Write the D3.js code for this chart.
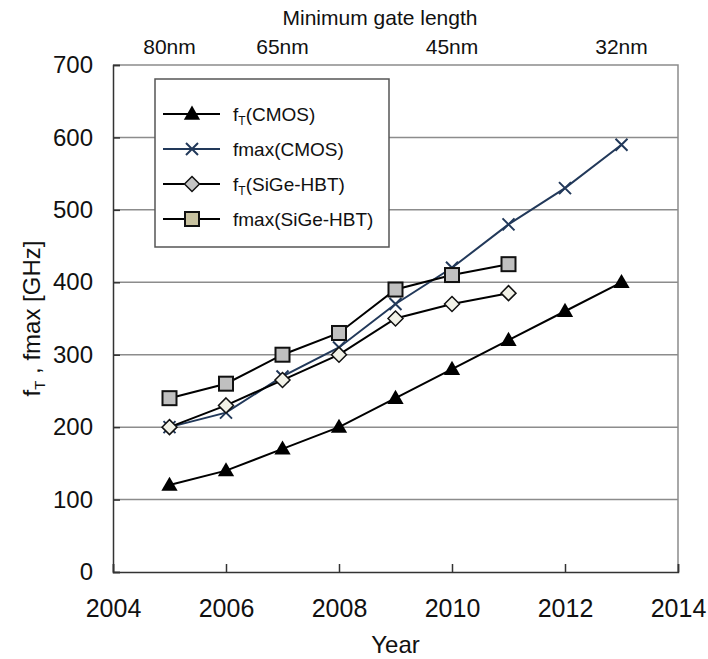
<!DOCTYPE html>
<html lang="en">
<head>
    <meta charset="UTF-8">
    <title>fT / fmax trend</title>
    <style>
        body { margin: 0; background: #fff; }
        svg text { font-family: "Liberation Sans", Arial, sans-serif; fill: #111; }
    </style>
</head>
<body>
    <div id="chartContainer"></div>

    <script src="https://d3js.org/d3.v7.min.js"></script>
    <script>
        // Data
        const years = [2005, 2006, 2007, 2008, 2009, 2010, 2011, 2012, 2013];
        const ftCmos = [120, 140, 170, 200, 240, 280, 320, 360, 400];
        const fmaxCmos = [200, 220, 270, 310, 370, 420, 480, 530, 590];
        const ftSige = [200, 230, 265, 300, 350, 370, 385];
        const fmaxSige = [240, 260, 300, 330, 390, 410, 425];

        const xTicks = [2004, 2006, 2008, 2010, 2012, 2014];
        const yTicks = [0, 100, 200, 300, 400, 500, 600, 700];
        const nodeYears = [2005, 2007, 2010, 2013];
        const nodeLabels = ["80nm", "65nm", "45nm", "32nm"];

        const seriesNames = ["fT(CMOS)", "fmax(CMOS)", "fT(SiGe-HBT)", "fmax(SiGe-HBT)"];

        const width = 708, height = 659;
        const margin = {top: 65, right: 30, bottom: 87, left: 113};

        const svg = d3.select("#chartContainer")
            .append("svg")
            .attr("width", width)
            .attr("height", height);

        const x = d3.scaleLinear()
            .domain([2004, 2014])
            .range([margin.left, width - margin.right]);

        const y = d3.scaleLinear()
            .domain([0, 700])
            .range([height - margin.bottom, margin.top]);

        // gridlines
        svg.append("g")
            .selectAll("line")
            .data(yTicks.filter(d => d > 0 && d < 700))
            .join("line")
                .attr("x1", x(2004))
                .attr("x2", x(2014))
                .attr("y1", d => y(d))
                .attr("y2", d => y(d))
                .attr("stroke", "#8c8c8c")
                .attr("stroke-width", 1.5);

        // plot border (top + right in gray)
        svg.append("path")
            .attr("d", `M${x(2004)},${y(700)}H${x(2014)}V${y(0)}`)
            .attr("fill", "none")
            .attr("stroke", "#8c8c8c")
            .attr("stroke-width", 1.5);

        // Y axis
        const yAxis = svg.append("g")
            .attr("transform", `translate(${x(2004)},0)`)
            .call(d3.axisLeft(y).tickValues(yTicks).tickSize(-7).tickPadding(20));
        yAxis.select(".domain").attr("stroke", "#333").attr("stroke-width", 1.5);
        yAxis.selectAll(".tick line").attr("stroke", "#333").attr("stroke-width", 1.5);
        yAxis.selectAll("text").style("font-size", "24px").attr("fill", "#111");

        // X axis
        const xAxis = svg.append("g")
            .attr("transform", `translate(0,${y(0)})`)
            .call(d3.axisBottom(x).tickValues(xTicks).tickSize(-8).tickPadding(27).tickFormat(d3.format("d")));
        xAxis.select(".domain").attr("stroke", "#333").attr("stroke-width", 1.5);
        xAxis.selectAll(".tick line").attr("stroke", "#333").attr("stroke-width", 1.5);
        xAxis.selectAll("text").style("font-size", "25px").attr("fill", "#111");

        // Axis titles
        svg.append("text")
            .attr("x", (x(2004) + x(2014)) / 2)
            .attr("y", 653)
            .attr("text-anchor", "middle")
            .style("font-size", "24px")
            .text("Year");

        const yTitle = svg.append("text")
            .attr("transform", `translate(40,${(y(0) + y(700)) / 2}) rotate(-90)`)
            .attr("text-anchor", "middle")
            .style("font-size", "24px");
        yTitle.append("tspan").text("f");
        yTitle.append("tspan").attr("dy", 5).style("font-size", "15px").text("T");
        yTitle.append("tspan").attr("dy", -5).text(" ,  fmax [GHz]");

        // Top: gate length labels
        svg.append("text")
            .attr("x", 380)
            .attr("y", 25)
            .attr("text-anchor", "middle")
            .style("font-size", "21px")
            .text("Minimum gate length");

        svg.append("g")
            .selectAll("text")
            .data(nodeYears)
            .join("text")
                .attr("x", d => x(d))
                .attr("y", 54)
                .attr("text-anchor", "middle")
                .style("font-size", "21px")
                .text((d, i) => nodeLabels[i]);

        // Series
        const line = d3.line()
            .x(d => x(d[0]))
            .y(d => y(d[1]));

        const toPts = vals => vals.map((v, i) => [years[i], v]);

        const triangle = d3.symbol().type(d3.symbolTriangle).size(115);
        const diamond = "M0,-7.5L7.5,0L0,7.5L-7.5,0Z";

        function drawMarker(g, type, cx, cy, legend) {
            if (type === 0) {
                g.append("path")
                    .attr("transform", `translate(${cx},${cy + 1})`)
                    .attr("d", triangle())
                    .attr("fill", "#000");
            } else if (type === 1) {
                g.append("path")
                    .attr("d", `M${cx - 6},${cy - 6}L${cx + 6},${cy + 6}M${cx - 6},${cy + 6}L${cx + 6},${cy - 6}`)
                    .attr("stroke", "#22395a")
                    .attr("stroke-width", 2);
            } else if (type === 2) {
                g.append("path")
                    .attr("transform", `translate(${cx},${cy})`)
                    .attr("d", diamond)
                    .attr("fill", legend ? "#c4c4c4" : "#f2f2e8")
                    .attr("stroke", "#111")
                    .attr("stroke-width", 1.5);
            } else {
                g.append("rect")
                    .attr("x", cx - 7)
                    .attr("y", cy - 7)
                    .attr("width", 14)
                    .attr("height", 14)
                    .attr("fill", legend ? "#c8c2a0" : "#c0c0c0")
                    .attr("stroke", "#111")
                    .attr("stroke-width", 2);
            }
        }

        const allSeries = [ftCmos, fmaxCmos, ftSige, fmaxSige];
        const lineColors = ["#000", "#22395a", "#000", "#000"];

        allSeries.forEach((vals, k) => {
            const pts = toPts(vals);
            const g = svg.append("g");
            g.append("path")
                .datum(pts)
                .attr("fill", "none")
                .attr("stroke", lineColors[k])
                .attr("stroke-width", 2)
                .attr("d", line);
            pts.forEach(p => drawMarker(g, k, x(p[0]), y(p[1]), false));
        });

        // Legend
        const legend = svg.append("g");
        legend.append("rect")
            .attr("x", 155)
            .attr("y", 79)
            .attr("width", 234)
            .attr("height", 168)
            .attr("fill", "#fff")
            .attr("stroke", "#555")
            .attr("stroke-width", 1.5);

        seriesNames.forEach((name, k) => {
            const ly = 114 + k * 35;
            legend.append("line")
                .attr("x1", 163).attr("x2", 220)
                .attr("y1", ly).attr("y2", ly)
                .attr("stroke", lineColors[k])
                .attr("stroke-width", 2);
            drawMarker(legend, k, 192, ly, true);
            const t = legend.append("text")
                .attr("x", 233)
                .attr("y", ly + 7)
                .style("font-size", "19px");
            if (name.startsWith("fT")) {
                t.append("tspan").text("f");
                t.append("tspan").attr("dy", 4).style("font-size", "12px").text("T");
                t.append("tspan").attr("dy", -4).text(name.slice(2));
            } else {
                t.text(name);
            }
        });
    </script>
</body>
</html>
